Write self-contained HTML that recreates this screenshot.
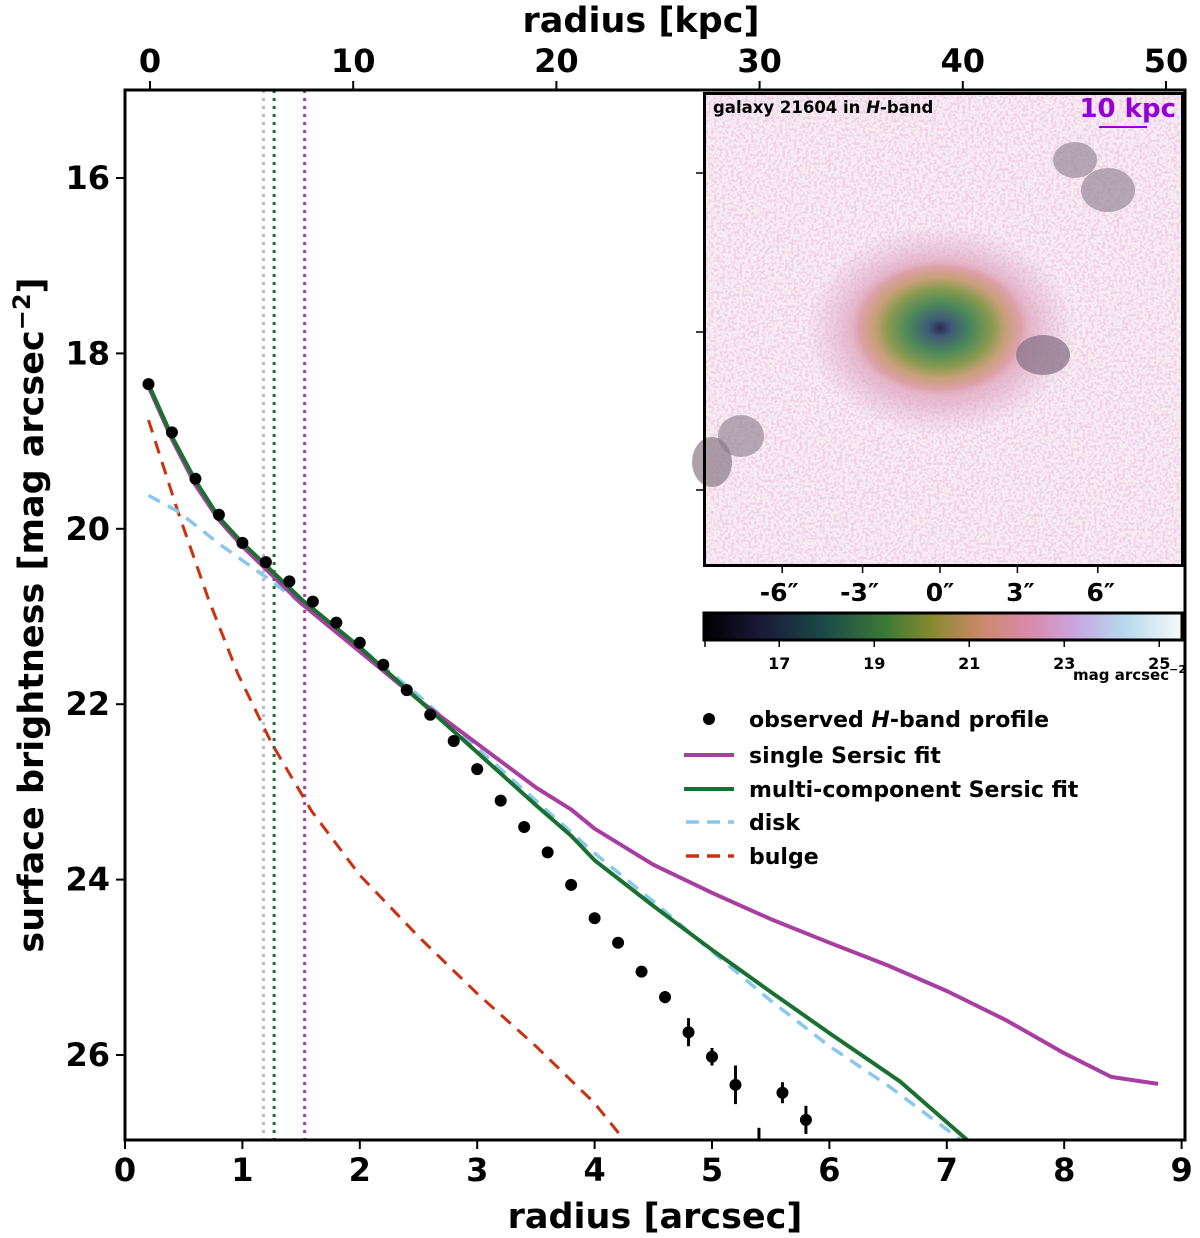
<!DOCTYPE html>
<html><head><meta charset="utf-8">
<style>
html,body{margin:0;padding:0;background:#fff;}
svg{display:block;font-family:"DejaVu Sans","Liberation Sans",sans-serif;font-weight:bold;}
</style></head>
<body>
<svg id="chart" width="1200" height="1238" viewBox="0 0 1200 1238" xmlns="http://www.w3.org/2000/svg">
<defs>
  <clipPath id="plotclip"><rect x="125" y="90" width="1060" height="1050"/></clipPath>
  <linearGradient id="cbar" x1="0" x2="1" y1="0" y2="0">
    <stop offset="0" stop-color="#000000"/>
    <stop offset="0.12" stop-color="#1c1838"/>
    <stop offset="0.25" stop-color="#1a4a48"/>
    <stop offset="0.38" stop-color="#3b7a36"/>
    <stop offset="0.48" stop-color="#8a8a30"/>
    <stop offset="0.58" stop-color="#c98a6a"/>
    <stop offset="0.68" stop-color="#d98aa8"/>
    <stop offset="0.78" stop-color="#c8a8e0"/>
    <stop offset="0.88" stop-color="#b8d8ec"/>
    <stop offset="1" stop-color="#f4fbf8"/>
  </linearGradient>
  <radialGradient id="galgrad" cx="0.5" cy="0.5" r="0.5">
    <stop offset="0" stop-color="#2a2850"/>
    <stop offset="0.12" stop-color="#3e5a78"/>
    <stop offset="0.35" stop-color="#4e8a58"/>
    <stop offset="0.55" stop-color="#8a9a50"/>
    <stop offset="0.7" stop-color="#c8a078"/>
    <stop offset="0.85" stop-color="#dca0a8"/>
    <stop offset="1" stop-color="#e6b8cc" stop-opacity="0"/>
  </radialGradient>
  <radialGradient id="halograd" cx="0.5" cy="0.5" r="0.5">
    <stop offset="0" stop-color="#dca0b8" stop-opacity="0.9"/>
    <stop offset="0.7" stop-color="#e0aac4" stop-opacity="0.7"/>
    <stop offset="1" stop-color="#e6b8cc" stop-opacity="0"/>
  </radialGradient>
  <filter id="noise" x="0" y="0" width="100%" height="100%">
    <feTurbulence type="fractalNoise" baseFrequency="0.35" numOctaves="1" seed="4"/>
    <feColorMatrix type="matrix" values="0 0 0 0 0.86  0 0 0 0 0.62  0 0 0 0 0.78  0 0 0 -6 3.3"/>
  </filter>
</defs>

<rect x="0" y="0" width="1200" height="1238" fill="#fff"/>
<g id="plot" clip-path="url(#plotclip)"></g>

<!-- inset image -->
<g>
  <rect x="703" y="93" width="480" height="474" fill="#fff"/>
  <rect x="706" y="95" width="476" height="471" fill="#f6ecf2"/>
  <rect x="706" y="95" width="476" height="471" filter="url(#noise)" opacity="0.85"/>
  <ellipse cx="940" cy="330" rx="135" ry="105" fill="url(#halograd)"/>
  <ellipse cx="940" cy="328" rx="95" ry="72" fill="url(#galgrad)"/>
  <ellipse cx="1043" cy="355" rx="27" ry="20" fill="#8a7288" opacity="0.75"/>
  <ellipse cx="1075" cy="160" rx="22" ry="18" fill="#9a8a98" opacity="0.7"/>
  <ellipse cx="1108" cy="190" rx="27" ry="22" fill="#9a8a98" opacity="0.7"/>
  <ellipse cx="741" cy="436" rx="23" ry="21" fill="#9a8a98" opacity="0.7"/>
  <ellipse cx="712" cy="462" rx="20" ry="25" fill="#8a7a88" opacity="0.7"/>
  <rect x="704.5" y="93.5" width="478" height="472" fill="none" stroke="#000" stroke-width="3"/>
  <text x="713" y="113" font-size="16.5" fill="#000">galaxy 21604 in <tspan font-style="italic">H</tspan>-band</text>
  <text x="1176" y="117" font-size="26" fill="#9400d3" text-anchor="end">10 kpc</text>
  <line x1="1099" y1="127" x2="1147" y2="127" stroke="#9400d3" stroke-width="2"/>
  <g id="insetticks"></g>
  <rect x="704" y="613" width="478" height="27" fill="url(#cbar)" stroke="#000" stroke-width="3"/>
  <g id="cbticks"></g>
  <text x="1186" y="680" font-size="15" text-anchor="end">mag arcsec<tspan font-size="11" dy="-7">−2</tspan></text>
</g>

<g id="axes"></g>

<!-- legend -->
<g font-size="22">
  <g>
    <circle cx="709" cy="719" r="6" fill="#000"/>
    <text x="749" y="727">observed <tspan font-style="italic">H</tspan>-band profile</text>
  </g>
  <g>
    <line x1="684" y1="755" x2="734" y2="755" stroke="#a83ea0" stroke-width="4"/>
    <text x="749" y="763">single Sersic fit</text>
  </g>
  <g>
    <line x1="684" y1="789" x2="734" y2="789" stroke="#1a7030" stroke-width="4"/>
    <text x="749" y="797">multi-component Sersic fit</text>
  </g>
  <g>
    <line x1="686" y1="822" x2="734" y2="822" stroke="#88c8ec" stroke-width="3.5" stroke-dasharray="13,8"/>
    <text x="749" y="830">disk</text>
  </g>
  <g>
    <line x1="686" y1="856" x2="734" y2="856" stroke="#cc3010" stroke-width="3.5" stroke-dasharray="13,8"/>
    <text x="749" y="864">bulge</text>
  </g>
</g>

<text x="655" y="1228" font-size="35" text-anchor="middle">radius [arcsec]</text>
<text x="641" y="32" font-size="35" text-anchor="middle">radius [kpc]</text>
<text transform="translate(43,615) rotate(-90)" font-size="35" text-anchor="middle">surface brightness [mag arcsec<tspan font-size="24" dy="-13">−2</tspan><tspan dy="13">]</tspan></text>

<script>
const obsR = [0.2,0.4,0.6,0.8,1.0,1.2,1.4,1.6,1.8,2.0,2.2,2.4,2.6,2.8,3.0,3.2,3.4,3.6,3.8,4.0,4.2,4.4,4.6,4.8,5.0,5.2,5.4,5.6,5.8];
const obsMag = [18.35,18.9,19.43,19.84,20.16,20.38,20.6,20.83,21.07,21.3,21.55,21.84,22.12,22.42,22.74,23.1,23.4,23.69,24.06,24.44,24.72,25.05,25.34,25.74,26.02,26.34,27.05,26.43,26.74];
const obsErr = [0,0,0,0,0,0,0,0,0,0,0,0,0,0,0,0,0,0,0.03,0.03,0.04,0.05,0.07,0.16,0.1,0.22,0.22,0.12,0.16];
const singleR = [0.2,0.4,0.6,0.8,1.0,1.5,2.0,2.5,3.0,3.5,3.8,4.0,4.5,5.0,5.5,6.0,6.5,7.0,7.5,8.0,8.4,8.8];
const singleMag = [18.38,18.98,19.5,19.9,20.2,20.85,21.4,21.95,22.45,22.95,23.2,23.42,23.83,24.15,24.45,24.72,24.98,25.27,25.6,25.98,26.25,26.33];
const multiR = [0.2,0.4,0.6,0.8,1.0,1.5,2.0,2.5,3.0,3.5,3.8,4.0,4.5,5.0,5.5,6.0,6.6,7.2];
const multiMag = [18.35,18.95,19.45,19.87,20.16,20.8,21.35,21.95,22.55,23.15,23.5,23.78,24.3,24.8,25.28,25.75,26.3,27.0];
const diskR = [0.2,0.45,0.8,1.2,1.6,2.0,2.5,3.0,3.5,4.0,4.5,5.0,5.5,6.0,6.5,7.0,7.3];
const diskMag = [19.62,19.8,20.17,20.55,20.95,21.35,21.9,22.5,23.1,23.7,24.25,24.82,25.38,25.9,26.35,26.85,27.15];
const bulgeR = [0.2,0.45,0.71,0.96,1.25,1.59,2.0,2.5,3.0,3.5,4.0,4.3];
const bulgeMag = [18.76,19.8,20.8,21.65,22.45,23.22,23.95,24.65,25.3,25.9,26.55,27.05];
const vlineR = [1.18,1.27,1.53];
const vlineColors = ["#bbbbbb","#1a7030","#a83ea0"];
const xTicks = [0,1,2,3,4,5,6,7,8,9];
const yTicks = [16,18,20,22,24,26];
const kpcTicks = [0,10,20,30,40,50];
const insetTicks = ["-6″","-3″","0″","3″","6″"];
const insetTickVals = [-6,-3,0,3,6];
const cbTicks = [17,19,21,23,25];

const NS = "http://www.w3.org/2000/svg";
const X = r => 125 + r * 117.4;
const Y = m => 178 + (m - 16) * 87.7;
const KX = k => 150 + k * 20.32;
const IX = a => 940 + a * 26.8;
const CBX = v => 704 + 23 + (v - 15.9) * 47.5;

function mk(tag, attrs, parent) {
  const el = document.createElementNS(NS, tag);
  for (const k in attrs) el.setAttribute(k, attrs[k]);
  parent.appendChild(el);
  return el;
}
const plot = document.getElementById('plot');
const axes = document.getElementById('axes');

vlineR.forEach((r, i) => {
  const l = mk('line', {x1: X(r), x2: X(r), y1: 90, y2: 1140, stroke: vlineColors[i], 'stroke-width': 3, 'stroke-dasharray': '3,5'}, plot);
  
  
});

function path(rs, ms, color, dash, name, w) {
  const d = rs.map((r, i) => (i ? 'L' : 'M') + X(r).toFixed(1) + ',' + Y(ms[i]).toFixed(1)).join(' ');
  const p = mk('path', {d: d, fill: 'none', stroke: color, 'stroke-width': w, 'stroke-linejoin': 'round'}, plot);
  if (dash) p.setAttribute('stroke-dasharray', dash);
  
  
}
path(bulgeR, bulgeMag, '#cc3010', '13,9', 'bulge-line', 3);
path(diskR, diskMag, '#88c8ec', '13,9', 'disk-line', 3.5);
path(singleR, singleMag, '#a83ea0', null, 'single-sersic-line', 4);
path(multiR, multiMag, '#1a7030', null, 'multi-sersic-line', 4);

obsR.forEach((r, i) => {
  if (obsErr[i] > 0) {
    const e = mk('line', {x1: X(r), x2: X(r), y1: Y(obsMag[i] - obsErr[i]), y2: Y(obsMag[i] + obsErr[i]), stroke: '#000', 'stroke-width': 3}, plot);
    
    
  }
  const c = mk('circle', {cx: X(r), cy: Y(obsMag[i]), r: 6, fill: '#000'}, plot);
  
  
});

const fr = mk('rect', {x: 125, y: 90, width: 1060, height: 1050, fill: 'none', stroke: '#000', 'stroke-width': 3}, axes);



xTicks.forEach(t => {
  mk('line', {x1: X(t), x2: X(t), y1: 1140, y2: 1149, stroke: '#000', 'stroke-width': 2}, axes);
  const tx = mk('text', {x: X(t), y: 1181, 'font-size': 32, 'text-anchor': 'middle'}, axes);
  tx.textContent = t;
  
  
});
yTicks.forEach(t => {
  mk('line', {x1: 116, x2: 125, y1: Y(t), y2: Y(t), stroke: '#000', 'stroke-width': 2}, axes);
  const tx = mk('text', {x: 110, y: Y(t) + 11, 'font-size': 32, 'text-anchor': 'end'}, axes);
  tx.textContent = t;
  
  
});
kpcTicks.forEach(t => {
  mk('line', {x1: KX(t), x2: KX(t), y1: 81, y2: 90, stroke: '#000', 'stroke-width': 2}, axes);
  const tx = mk('text', {x: KX(t), y: 72, 'font-size': 32, 'text-anchor': 'middle'}, axes);
  tx.textContent = t;
  
  
});
const it = document.getElementById('insetticks');
[173, 332, 490].forEach(y => mk('line', {x1: 696, x2: 704, y1: y, y2: y, stroke: '#000', 'stroke-width': 1.5}, it));
insetTickVals.forEach((v, i) => {
  mk('line', {x1: IX(v) + (v === 0 ? 0 : (v < 0 ? 3 : -3)), x2: IX(v) + (v === 0 ? 0 : (v < 0 ? 3 : -3)), y1: 566, y2: 573, stroke: '#000', 'stroke-width': 1.5}, it);
  const tx = mk('text', {x: IX(v), y: 601, 'font-size': 25, 'text-anchor': 'middle'}, it);
  tx.textContent = insetTicks[i];
  
  
});
const cb = document.getElementById('cbticks');
mk('line', {x1: 705, x2: 705, y1: 641, y2: 647, stroke: '#000', 'stroke-width': 1.5}, cb);
cbTicks.forEach(v => {
  mk('line', {x1: CBX(v), x2: CBX(v), y1: 641, y2: 647, stroke: '#000', 'stroke-width': 1.5}, cb);
  const tx = mk('text', {x: CBX(v), y: 669, 'font-size': 16, 'text-anchor': 'middle'}, cb);
  tx.textContent = v;
  
  
});
</script>
</svg>
</body></html>
